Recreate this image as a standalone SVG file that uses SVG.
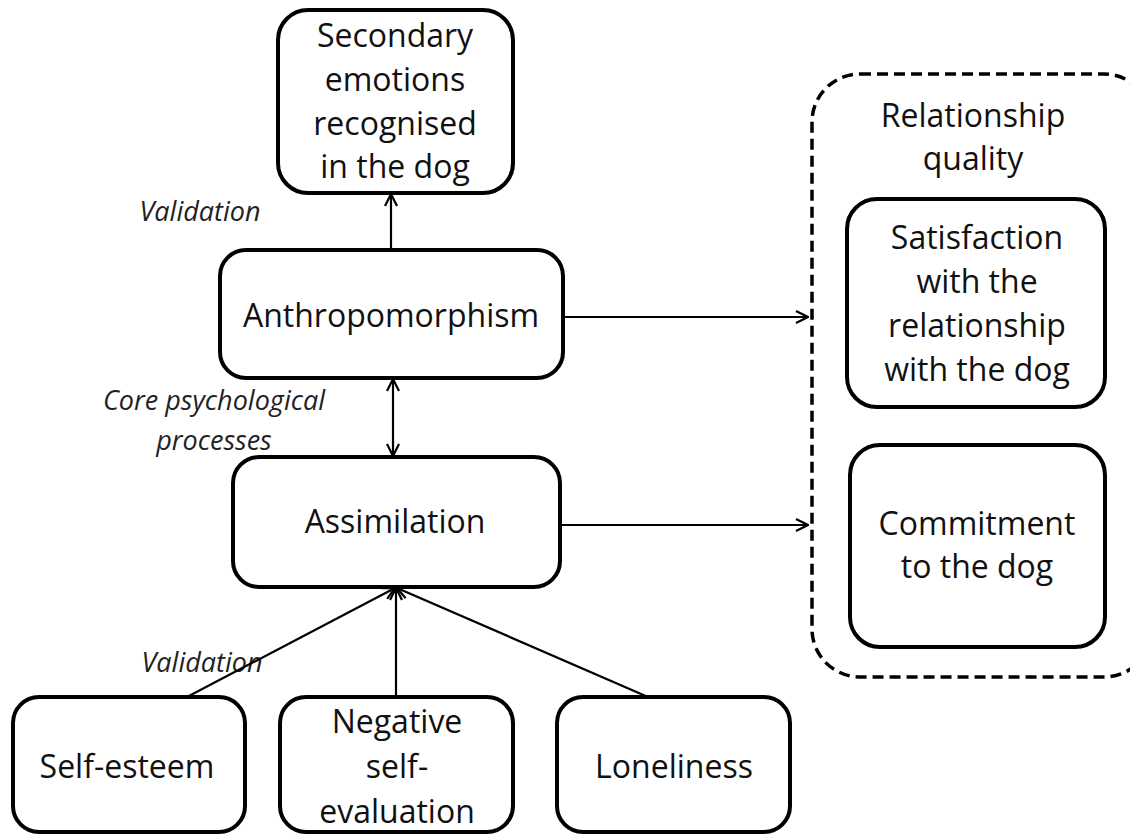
<svg xmlns="http://www.w3.org/2000/svg" width="1130" height="836" viewBox="0 0 1130 836">
<style>
.box{fill:#fff;stroke:#000;stroke-width:4}
.dash{fill:none;stroke:#000;stroke-width:3.5;stroke-dasharray:11 6}
.t{font-family:"Open Sans","Liberation Sans",sans-serif;font-size:32px;fill:#111;text-anchor:middle}
.it{font-family:"Open Sans","Liberation Sans",sans-serif;font-size:27px;font-style:italic;fill:#222;text-anchor:middle}
.ln{stroke:#000;stroke-width:2.2;fill:none}
</style>
<defs>
<marker id="ah" viewBox="0 0 14 14" refX="13" refY="7" markerWidth="14" markerHeight="14" markerUnits="userSpaceOnUse" orient="auto-start-reverse">
<path d="M1,1 L13,7 L1,13" fill="none" stroke="#000" stroke-width="2.2"/>
</marker>
</defs>
<rect width="1130" height="836" fill="#fff"/>
<g id="relationship-quality">
<rect class="dash" x="812" y="74" width="340" height="603" rx="48"/>
<text class="t" x="973" y="127">Relationship</text>
<text class="t" x="973" y="170">quality</text>
</g>
<g id="secondary-emotions">
<rect class="box" x="278" y="10" width="235" height="183" rx="30"/>
<text class="t" x="395" y="47">Secondary</text>
<text class="t" x="395" y="91">emotions</text>
<text class="t" x="395" y="135">recognised</text>
<text class="t" x="395" y="178">in the dog</text>
</g>
<g id="anthropomorphism">
<rect class="box" x="220" y="250" width="343" height="128" rx="26"/>
<text class="t" x="391" y="327">Anthropomorphism</text>
</g>
<g id="assimilation">
<rect class="box" x="233" y="457" width="327" height="130" rx="26"/>
<text class="t" x="395" y="533">Assimilation</text>
</g>
<g id="satisfaction">
<rect class="box" x="847" y="199" width="258" height="208" rx="30"/>
<text class="t" x="977" y="249">Satisfaction</text>
<text class="t" x="977" y="293">with the</text>
<text class="t" x="977" y="337">relationship</text>
<text class="t" x="977" y="381">with the dog</text>
</g>
<g id="commitment">
<rect class="box" x="850" y="445" width="255" height="202" rx="30"/>
<text class="t" x="977" y="535">Commitment</text>
<text class="t" x="977" y="578">to the dog</text>
</g>
<g id="self-esteem">
<rect class="box" x="13" y="697" width="232" height="135" rx="26"/>
<text class="t" x="127" y="778">Self-esteem</text>
</g>
<g id="negative-self-evaluation">
<rect class="box" x="280" y="697" width="233" height="135" rx="26"/>
<text class="t" x="397" y="733">Negative</text>
<text class="t" x="397" y="778">self-</text>
<text class="t" x="397" y="823">evaluation</text>
</g>
<g id="loneliness">
<rect class="box" x="557" y="697" width="233" height="135" rx="26"/>
<text class="t" x="674" y="778">Loneliness</text>
</g>
<g id="labels">
<text class="it" x="200" y="221">Validation</text>
<text class="it" x="214" y="410">Core psychological</text>
<text class="it" x="214" y="450">processes</text>
<text class="it" x="202" y="672">Validation</text>
</g>
<g id="connectors">
<line class="ln" x1="391" y1="250" x2="391" y2="194" marker-end="url(#ah)"/>
<line class="ln" x1="393" y1="379" x2="393" y2="456" marker-start="url(#ah)" marker-end="url(#ah)"/>
<line class="ln" x1="563" y1="317" x2="808" y2="317" marker-end="url(#ah)"/>
<line class="ln" x1="560" y1="525" x2="808" y2="525" marker-end="url(#ah)"/>
<line class="ln" x1="187" y1="697" x2="395" y2="588" marker-end="url(#ah)"/>
<line class="ln" x1="396" y1="697" x2="396" y2="588" marker-end="url(#ah)"/>
<line class="ln" x1="648" y1="697" x2="397" y2="588" marker-end="url(#ah)"/>
</g>
</svg>
